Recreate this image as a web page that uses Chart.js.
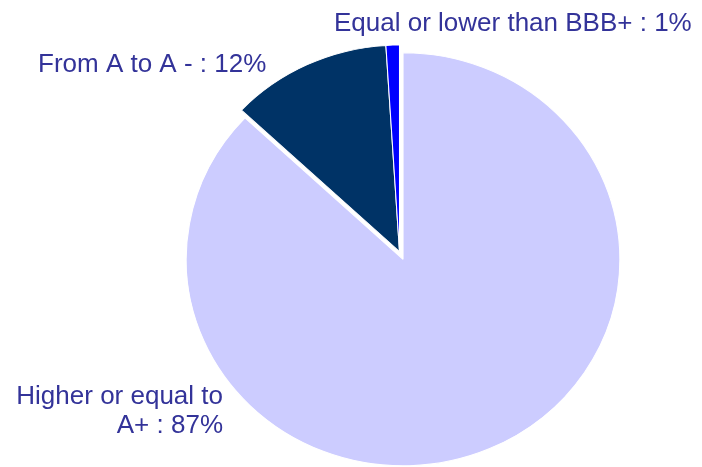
<!DOCTYPE html>
<html lang="en">
<head>
    <meta charset="UTF-8">
    <meta name="viewport" content="width=device-width, initial-scale=1.0">
    <title>Rating split</title>
    <style>
        html, body { margin: 0; padding: 0; background: #fff; }
        #wrap { width: 702px; height: 467px; }
    </style>
</head>
<body>
    <div id="wrap">
        <canvas id="ratingChart" width="702" height="467"></canvas>
    </div>
    <script src="https://cdn.jsdelivr.net/npm/chart.js"></script>
<script>
// rating buckets, each label split into lines
const categories = [
    ["Higher or equal to", "A+"],
    ["From A to A -"],
    ["Equal or lower than BBB+"]
];
const shares = [87, 12, 1];
const sliceColors = ["#CCCCFF", "#003366", "#0000FF"];
// exploded slices: plain shift in px along the slice middle
const slicePulls = [8.5, 0, 0];

// where each label sits (first baseline) and how it aligns
const labelSpots = [
    { x: 223, y: 404, align: "right" },
    { x: 38, y: 72, align: "left" },
    { x: 334, y: 31, align: "left" }
];

const stretchX = 1.05; // pie is a bit wider than tall
const textColor = "#333399";

// squash the pie horizontally into an ellipse, text stays untouched
const ellipsePie = {
    id: "ellipsePie",
    beforeDatasetsDraw(chart) {
        const ctx = chart.ctx;
        const cx = (chart.chartArea.left + chart.chartArea.right) / 2;
        ctx.save();
        ctx.translate(cx, 0);
        ctx.scale(stretchX, 1);
        ctx.translate(-cx, 0);
    },
    afterDatasetsDraw(chart) {
        chart.ctx.restore();
    }
};

// chart.js offset also grows the radius, so move the arc by hand instead
const slicePull = {
    id: "slicePull",
    afterUpdate(chart) {
        chart.getDatasetMeta(0).data.forEach((arc, i) => {
            const pull = slicePulls[i];
            if (!pull || arc._pulled) return;
            const baseDraw = arc.draw;
            arc.draw = function (ctx) {
                const mid = (this.startAngle + this.endAngle) / 2;
                ctx.save();
                ctx.translate(Math.cos(mid) * pull, Math.sin(mid) * pull);
                baseDraw.call(this, ctx);
                ctx.restore();
            };
            arc._pulled = true;
        });
    }
};

const sliceLabels = {
    id: "sliceLabels",
    afterDraw(chart) {
        const ctx = chart.ctx;
        ctx.save();
        ctx.font = "26px 'Liberation Sans', Arial, sans-serif";
        ctx.fillStyle = textColor;
        ctx.textBaseline = "alphabetic";
        categories.forEach((lines, i) => {
            const spot = labelSpots[i];
            const text = lines.slice();
            text[text.length - 1] += " : " + shares[i] + "%";
            ctx.textAlign = spot.align;
            text.forEach((line, j) => {
                ctx.fillText(line, spot.x, spot.y + j * 29);
            });
        });
        ctx.restore();
    }
};

function makeChart() {
    const ctx = document.getElementById("ratingChart");
    new Chart(ctx, {
        type: "pie",
        data: {
            labels: categories.map((c) => c.join(" ")),
            datasets: [
                {
                    data: shares,
                    backgroundColor: sliceColors,
                    borderColor: "#ffffff",
                    borderWidth: 1,
                    clip: false
                }
            ]
        },
        options: {
            responsive: false,
            animation: false,
            radius: 206.5,
            layout: { padding: { left: 97, top: 36, right: 0, bottom: 0 } },
            events: [],
            plugins: {
                legend: { display: false },
                tooltip: { enabled: false }
            }
        },
        plugins: [slicePull, ellipsePie, sliceLabels]
    });
}
makeChart();
</script>
</body>
</html>
